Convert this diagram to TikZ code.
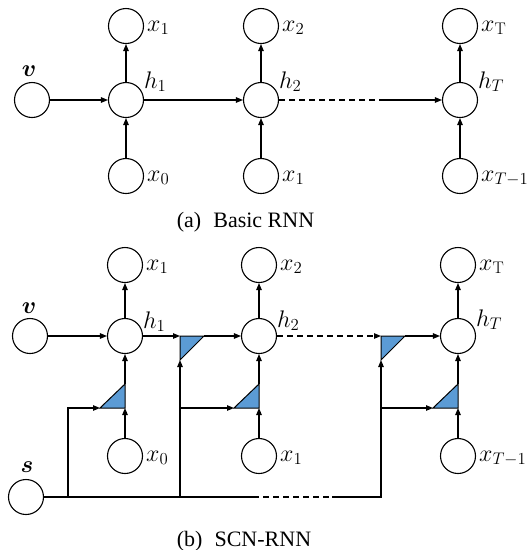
\RequirePackage{fix-cm}
\documentclass[tikz,border=0pt]{standalone}
\usepackage{bm}
\usepackage{fontspec}
\newfontfamily\capfont{Liberation Serif}
\usetikzlibrary{arrows.meta,calc}
\definecolor{gateblue}{HTML}{5B9BD5}
\tikzset{
 unit/.style={circle,draw,line width=1.1pt,minimum size=35pt,inner sep=0pt},
 conn/.style={line width=1.1pt,-{Triangle[length=7pt,width=5.5pt]}},
 plain/.style={line width=1.1pt},
 dashline/.style={line width=1.1pt,dash pattern=on 6pt off 4pt},
 gate/.style={draw,fill=gateblue,line width=1pt,line join=miter},
 lab/.style={anchor=base west,inner sep=0pt,font=\fontsize{24}{28}\selectfont},
 vlab/.style={anchor=base,inner sep=0pt,font=\fontsize{24}{28}\selectfont},
 captext/.style={anchor=base,inner sep=0pt,font=\capfont\fontsize{22}{26}\selectfont},
}
\begin{document}
\begin{tikzpicture}[x=1pt,y=-1pt]
\useasboundingbox (0,0) rectangle (528,550);
% ---------------- (a) Basic RNN ----------------
\node[unit] (av) at (32,100) {};
\node[unit] (ah1) at (126,100) {};
\node[unit] (ah2) at (261,100) {};
\node[unit] (ahT) at (460,100) {};
\node[unit] (ax1) at (126,26) {};
\node[unit] (ax2) at (261,26) {};
\node[unit] (axT) at (460,26) {};
\node[unit] (ax0) at (126,176) {};
\node[unit] (ax1b) at (261,176) {};
\node[unit] (axTb) at (460,176) {};
\node[vlab] (lav) at (29,76) {$\bm{v}$};
\node[lab] (lah1) at ($(ah1)+(18,-12)$) {$h_1$};
\node[lab] (lah2) at ($(ah2)+(18,-12)$) {$h_2$};
\node[lab] (lahT) at ($(ahT)+(18,-12)$) {$h_T$};
\node[lab] (lax1) at ($(ax1)+(21,5)$) {$x_1$};
\node[lab] (lax2) at ($(ax2)+(21,5)$) {$x_2$};
\node[lab] (laxT) at ($(axT)+(21,5)$) {$x_{\mathrm{T}}$};
\node[lab] (lax0) at ($(ax0)+(21,5)$) {$x_0$};
\node[lab] (lax1b) at ($(ax1b)+(21,5)$) {$x_1$};
\node[lab] (laxTb) at ($(axTb)+(21,5)$) {$x_{T-1}$};
\draw[conn] (av) -- (ah1);
\draw[conn] (ah1) -- (ah2);
\coordinate (ad) at (380,100);
\draw[dashline] (ah2.east) -- (ad);
\draw[conn] (ad) -- (ahT.west);
\foreach \c/\t/\b in {ah1/ax1/ax0, ah2/ax2/ax1b, ahT/axT/axTb}{
  \draw[conn] (\c) -- (\t);
  \draw[conn] (\b) -- (\c);
}
\node[captext] (capa) at (245.5,227) {(a)\hspace{0.55em}Basic RNN};
% ---------------- (b) SCN-RNN ----------------
\node[unit] (bv) at (30,336) {};
\node[unit] (bs) at (26,497) {};
\node[unit] (bh1) at (125,336) {};
\node[unit] (bh2) at (259,336) {};
\node[unit] (bhT) at (458,336) {};
\node[unit] (bx1) at (125,265) {};
\node[unit] (bx2) at (259,265) {};
\node[unit] (bxT) at (458,265) {};
\node[unit] (bx0) at (125,456) {};
\node[unit] (bx1b) at (259,456) {};
\node[unit] (bxTb) at (458,456) {};
\node[vlab] (lbv) at (29,313) {$\bm{v}$};
\node[vlab] (lbs) at (27,472) {$\bm{s}$};
\node[lab] (lbh1) at ($(bh1)+(18,-8)$) {$h_1$};
\node[lab] (lbh2) at ($(bh2)+(18,-9)$) {$h_2$};
\node[lab] (lbhT) at ($(bhT)+(18,-10)$) {$h_T$};
\node[lab] (lbx1) at ($(bx1)+(21,5)$) {$x_1$};
\node[lab] (lbx2) at ($(bx2)+(21,5)$) {$x_2$};
\node[lab] (lbxT) at ($(bxT)+(21,5)$) {$x_{\mathrm{T}}$};
\node[lab] (lbx0) at ($(bx0)+(21,5)$) {$x_0$};
\node[lab] (lbx1b) at ($(bx1b)+(21,5)$) {$x_1$};
\node[lab] (lbxTb) at ($(bxTb)+(21,5)$) {$x_{T-1}$};
% lower gates (right angle at bottom right)
\foreach \n/\cx in {g1/125, g3/259, g5/458}{
  \coordinate (\n bl) at (\cx-25,408);
  \coordinate (\n br) at (\cx,408);
  \coordinate (\n tr) at (\cx,384);
  \path[gate] (\n bl) -- (\n br) -- (\n tr) -- cycle;
}
% upper gates (right angle at top left)
\foreach \n/\gx in {g2/180, g4/381}{
  \coordinate (\n tl) at (\gx,336);
  \coordinate (\n tr) at (\gx+24,336);
  \coordinate (\n bl) at (\gx,360);
  \path[gate] (\n tl) -- (\n tr) -- (\n bl) -- cycle;
}
% vertical connections
\foreach \c/\t/\b/\g in {bh1/bx1/bx0/g1, bh2/bx2/bx1b/g3, bhT/bxT/bxTb/g5}{
  \draw[conn] (\c) -- (\t);
  \draw[conn] (\b) -- (\g br);
  \draw[conn] (\g tr) -- (\c);
}
% horizontal h chain
\draw[conn] (bv) -- (bh1);
\draw[conn] (bh1.east) -- (g2tl);
\draw[conn] (g2tr) -- (bh2.west);
\draw[dashline,-{Triangle[length=7pt,width=5.5pt]}] (bh2.east) -- (g4tl);
\draw[conn] (g4tr) -- (bhT.west);
% s lines
\coordinate (j1) at (68,497);
\coordinate (k1) at (68,408);
\coordinate (j2) at (180,497);
\coordinate (k2) at (180,408);
\coordinate (d1) at (253,497);
\coordinate (d2) at (332,497);
\coordinate (j3) at (381,497);
\coordinate (k3) at (381,408);
\draw[plain] (bs.east) -- (d1);
\draw[dashline] (d1) -- (d2);
\draw[conn] (d2) -- (j3) -- (g4bl);
\draw[conn] (j1) -- (k1) -- (g1bl);
\draw[conn] (j2) -- (g2bl);
\draw[conn] (k2) -- (g3bl);
\draw[conn] (k3) -- (g5bl);
\node[captext] (capb) at (244,546) {(b)\hspace{0.55em}SCN-RNN};
\end{tikzpicture}
\end{document}
